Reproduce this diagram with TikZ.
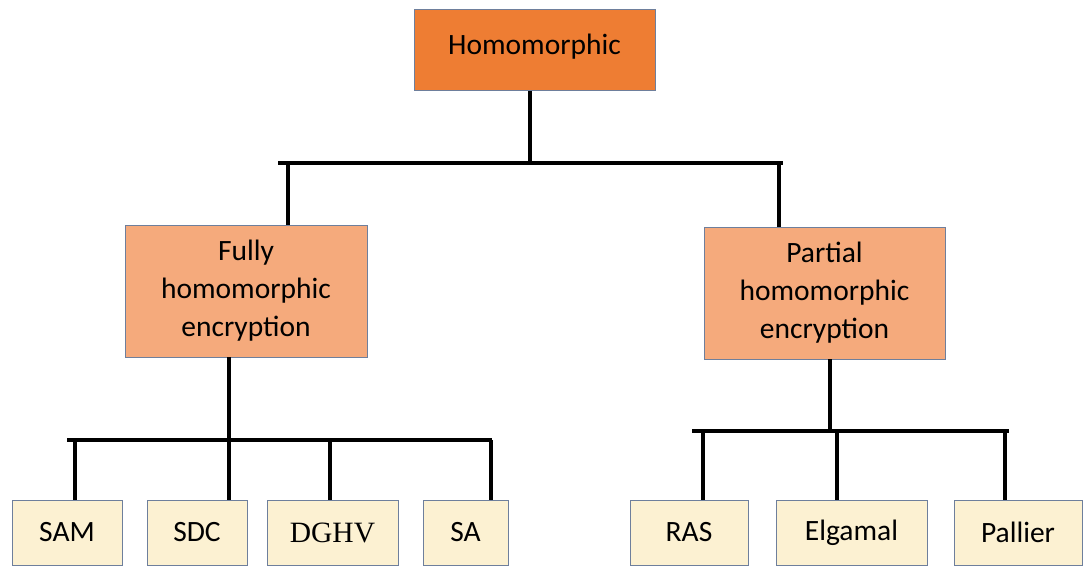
\documentclass[tikz,border=0pt]{standalone}
\usepackage{fontspec}
\setmainfont{Carlito}
\newfontfamily\serifdg{Liberation Serif}
\definecolor{topfill}{HTML}{EE7D33}
\definecolor{midfill}{HTML}{F5AA7C}
\definecolor{leaffill}{HTML}{FCF1D2}
\definecolor{edgeblue}{HTML}{6E7F9C}
\tikzset{
  boxbase/.style={draw=edgeblue, line width=1pt, inner sep=0pt, outer sep=0pt, align=center, text=black, font=\fontsize{29.5}{38}\selectfont},
  topbox/.style={boxbase, fill=topfill},
  midbox/.style={boxbase, fill=midfill},
  leafbox/.style={boxbase, fill=leaffill, minimum height=65pt},
  conn/.style={line width=3.5pt, black}
}
\begin{document}
\begin{tikzpicture}[x=1pt,y=-1pt]
\useasboundingbox (0,0) rectangle (1084,567);
% boxes
\node[topbox, minimum width=241pt, minimum height=81pt] (h) at (534.5,50.5) {\raisebox{12pt}{Homomorphic}};
\node[midbox, minimum width=242pt, minimum height=132pt] (f) at (246,291) {Fully\\homomorphic\\encryption};
\node[midbox, minimum width=241pt, minimum height=132pt] (p) at (824.5,293) {Partial\\homomorphic\\encryption};
\node[leafbox, minimum width=110pt] (sam) at (67,532.5) {SAM};
\node[leafbox, minimum width=100pt] (sdc) at (197,532.5) {SDC};
\node[leafbox, minimum width=131pt] (dghv) at (332.5,532.5) {\serifdg DGHV};
\node[leafbox, minimum width=85pt] (sa) at (465.5,532.5) {SA};
\node[leafbox, minimum width=118pt] (ras) at (689,532.5) {RAS};
\node[leafbox, minimum width=151pt] (elg) at (851.5,532.5) {Elgamal};
\node[leafbox, minimum width=128pt] (pal) at (1018,532.5) {Pallier};
% top bus
\coordinate (t0) at (530,163);
\coordinate (tl) at (278,163);
\coordinate (tr) at (783,163);
\coordinate (tf) at (288,163);
\coordinate (tp) at (779,163);
\draw[conn] (h.south -| t0) -- (t0);
\draw[conn] (tl) -- (tr);
\draw[conn] (tf) -- (tf |- f.north);
\draw[conn] (tp) -- (tp |- p.north);
% left bus
\coordinate (l0) at (229,440);
\coordinate (ll) at (67,440);
\coordinate (lr) at (492,440);
\coordinate (l1) at (75,440);
\coordinate (l2) at (229,440);
\coordinate (l3) at (330,440);
\coordinate (l4) at (491,440);
\draw[conn] (f.south -| l0) -- (l0);
\draw[conn] (ll) -- (lr);
\draw[conn] (l1) -- (l1 |- sam.north);
\draw[conn] (l2) -- (l2 |- sdc.north);
\draw[conn] (l3) -- (l3 |- dghv.north);
\draw[conn] (l4) -- (l4 |- sa.north);
% right bus
\coordinate (r0) at (830,431);
\coordinate (rl) at (692,431);
\coordinate (rr) at (1009,431);
\coordinate (r1) at (703,431);
\coordinate (r2) at (837,431);
\coordinate (r3) at (1005,431);
\draw[conn] (p.south -| r0) -- (r0);
\draw[conn] (rl) -- (rr);
\draw[conn] (r1) -- (r1 |- ras.north);
\draw[conn] (r2) -- (r2 |- elg.north);
\draw[conn] (r3) -- (r3 |- pal.north);
\end{tikzpicture}
\end{document}
